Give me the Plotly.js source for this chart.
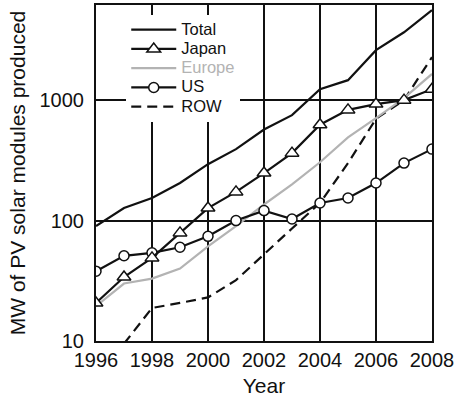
<!DOCTYPE html>
<html>
<head>
<meta charset="utf-8">
<script src="https://cdn.plot.ly/plotly-3.0.1.min.js"></script>
<style>html,body{margin:0;padding:0;background:#fff;}#chart{width:456px;height:398px;}</style>
</head>
<body>
<div id="chart"></div>
<script>
var years = [1996, 1997, 1998, 1999, 2000, 2001, 2002, 2003, 2004, 2005, 2006, 2007, 2008];
var total = [90, 127, 154, 205, 294, 392, 570, 751, 1233, 1465, 2600, 3660, 5580];
var japan = [20.7, 34, 49, 79, 127, 173, 248, 363, 625, 830, 927, 1000, 1233];
var europe = [19.5, 30, 33, 40, 61, 90, 136, 200, 305, 490, 710, 1040, 1650];
var us = [38, 51, 54, 60, 74, 100, 121, 103, 140, 154, 205, 300, 392];
var row = [null, 9.5, 18.8, 20.7, 23, 32, 52, 86, 140, 300, 700, 1000, 2275];
var xTicks = [1996, 1998, 2000, 2002, 2004, 2006, 2008];
var yTicks = [10, 100, 1000];
var yTickText = ['10', '100', '1000'];

var gray = '#b3b3b3';
function lg(t, c) {
  return '<span style="font-size:16.5px' + (c ? ';color:' + c : '') + '">' + t + '</span>';
}
var traces = [
  {x: years, y: row, name: lg('ROW'), mode: 'lines', legendrank: 5,
   line: {color: '#111', width: 2.2, dash: '10px,6px'}},
  {x: years, y: europe, name: lg('Europe', gray), mode: 'lines', legendrank: 3,
   line: {color: gray, width: 2.2}},
  {x: years, y: total, name: lg('Total'), mode: 'lines', legendrank: 1,
   line: {color: '#111', width: 2.2}},
  {x: years, y: us, name: lg('US'), mode: 'lines+markers', legendrank: 4,
   line: {color: '#111', width: 2.2},
   marker: {symbol: 'circle', size: 10, color: '#fff', line: {color: '#111', width: 1.5}}},
  {x: years, y: japan, name: lg('Japan'), mode: 'lines+markers', legendrank: 2,
   line: {color: '#111', width: 2.2},
   marker: {symbol: 'triangle-up', size: 12, color: '#fff', line: {color: '#111', width: 1.5}}}
];

var layout = {
  width: 456, height: 398,
  margin: {l: 96, r: 24, t: 5, b: 57},
  paper_bgcolor: '#fff', plot_bgcolor: '#fff',
  font: {family: 'Liberation Sans, Arial, sans-serif', color: '#111', size: 20},
  showlegend: true,
  legend: {x: 0.09, y: 0.97, xanchor: 'left', yanchor: 'top', bgcolor: '#fff',
           font: {size: 12.5, color: '#111'}, borderwidth: 0, itemwidth: 45},
  xaxis: {range: [1996, 2008], tickvals: xTicks, ticktext: xTicks.map(String),
          showgrid: true, gridcolor: '#111', gridwidth: 2,
          showline: true, linecolor: '#111', linewidth: 2, mirror: true,
          ticks: '', zeroline: false, tickfont: {size: 20},
          title: {text: 'Year', font: {size: 21}, standoff: 8}},
  yaxis: {type: 'log', range: [1, 3.79], tickvals: yTicks, ticktext: yTickText,
          showgrid: true, gridcolor: '#111', gridwidth: 2,
          showline: true, linecolor: '#111', linewidth: 2, mirror: true,
          ticks: 'outside', ticklen: 6, tickcolor: 'rgba(0,0,0,0)',
          zeroline: false, tickfont: {size: 20}, automargin: true,
          title: {text: 'MW of PV solar modules produced', font: {size: 21}, standoff: 8}}
};

Plotly.newPlot('chart', traces, layout, {displayModeBar: false, staticPlot: true});
</script>
</body>
</html>
